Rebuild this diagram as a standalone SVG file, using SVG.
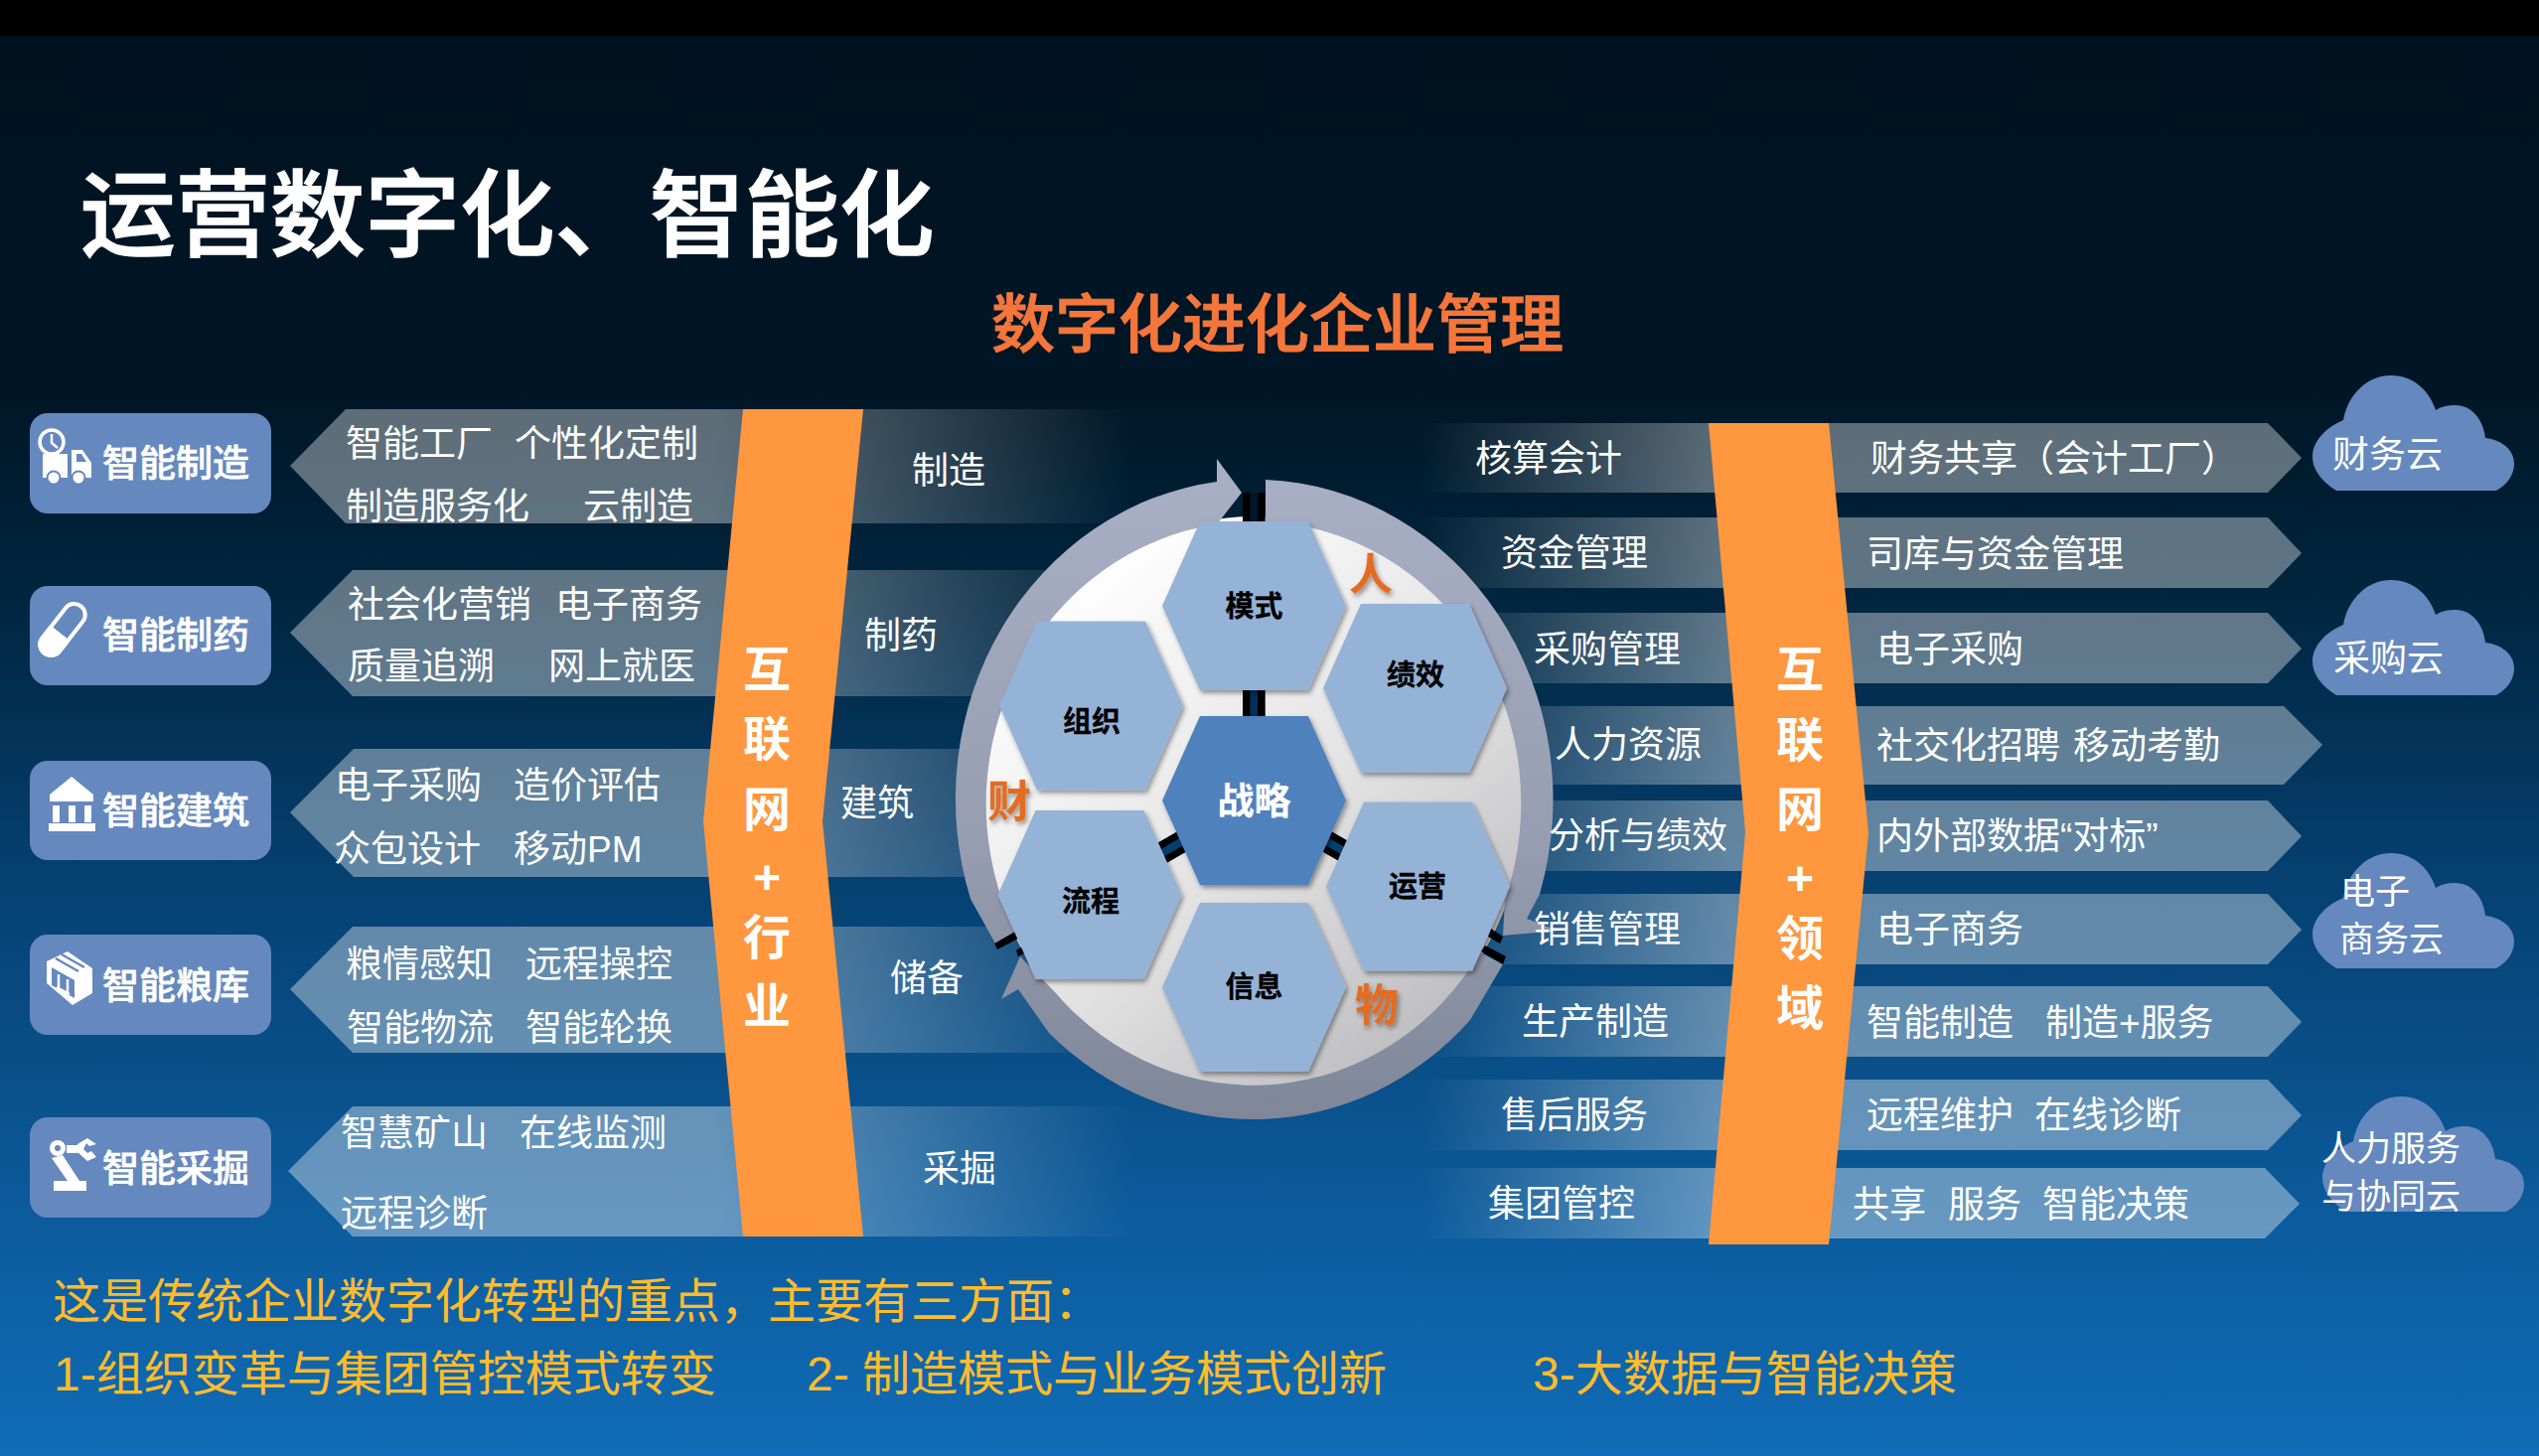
<svg xmlns="http://www.w3.org/2000/svg" width="2556" height="1466" viewBox="0 0 2556 1466">
<style>
text{font-family:"Liberation Sans","Noto Sans CJK SC",sans-serif;fill:#fff}
.t{font-size:37px}
.p{font-size:37px;font-weight:500;stroke:#fff;stroke-width:.6}
.v{font-size:48px;font-weight:700;text-anchor:middle}
.h{font-size:29px;font-weight:700;fill:#000;text-anchor:middle;stroke:#000;stroke-width:.3}
.o{font-size:44px;font-weight:700;fill:#e36c23;text-anchor:middle}
.c{font-size:35px}
.y{font-size:48px;fill:#fdbb2d}
.pill{fill:#6588be}
.lb{fill:url(#fl)}
.rb{fill:url(#fr)}
.or{fill:#fe973e}
.ring{fill:url(#rg)}
.k{fill:#000}
</style>
<defs>
<linearGradient id="bg" gradientUnits="userSpaceOnUse" x1="0" y1="36" x2="0" y2="1466">
<stop offset="0" stop-color="#001220"/><stop offset=".25" stop-color="#001626"/><stop offset=".4" stop-color="#012640"/><stop offset=".59" stop-color="#054070"/><stop offset=".84" stop-color="#0c5c9e"/><stop offset="1" stop-color="#106cb6"/>
</linearGradient>
<linearGradient id="fl" gradientUnits="userSpaceOnUse" x1="720" y1="0" x2="1140" y2="0">
<stop offset="0" stop-color="#fff" stop-opacity=".37"/><stop offset="1" stop-color="#fff" stop-opacity="0"/>
</linearGradient>
<linearGradient id="fr" gradientUnits="userSpaceOnUse" x1="1740" y1="0" x2="1430" y2="0">
<stop offset="0" stop-color="#fff" stop-opacity=".37"/><stop offset="1" stop-color="#fff" stop-opacity="0"/>
</linearGradient>
<linearGradient id="rg" gradientUnits="userSpaceOnUse" x1="0" y1="480" x2="0" y2="1130">
<stop offset="0" stop-color="#a8afc4"/><stop offset=".55" stop-color="#989eb1"/><stop offset="1" stop-color="#7f8698"/>
</linearGradient>
<linearGradient id="dg" x1=".2" y1=".08" x2=".85" y2=".92">
<stop offset="0" stop-color="#fff"/><stop offset=".55" stop-color="#e2e2e2"/><stop offset="1" stop-color="#bcbcc0"/>
</linearGradient>
<filter id="sh" x="-10%" y="-10%" width="125%" height="125%"><feDropShadow dx="2" dy="3" stdDeviation="2.5" flood-color="#000" flood-opacity=".4"/></filter>
<polygon id="hex" points="-92.5,0 -54.5,-85 54.5,-85 92.5,0 54.5,85 -54.5,85"/>
<path id="cloud" d="M24,116 C8,106 0,94 0,82 C0,66 14,52 31,45 C36,18 56,0 79,0 C102,0 118,16 124,35 C130,31 137,30 144,30 C160,30 172,44 174,63 C191,65 203,75 203,89 C203,100 196,110 185,116 Z" fill="#6588be"/>
</defs>

<rect width="2556" height="1466" fill="url(#bg)"/>
<rect width="2556" height="36" fill="#000"/>

<text id="title" x="81" y="251" font-size="95.5" style="font-weight:500;stroke:#fff;stroke-width:1.5">运营数字化、智能化</text>
<text id="subtitle" x="998" y="349" font-size="64" style="fill:#f5763a;font-weight:500;stroke:#f5763a;stroke-width:1">数字化进化企业管理</text>

<g id="left-bars">
<polygon class="lb" points="292,469 348,412 1140,412 1140,527 348,527" id="lbar1"/>
<polygon class="lb" points="292,637 355,574 1140,574 1140,701 355,701" id="lbar2"/>
<polygon class="lb" points="292,818 356,754 1140,754 1140,883 356,883" id="lbar3"/>
<polygon class="lb" points="292,996 355,933 1140,933 1140,1060 355,1060" id="lbar4"/>
<polygon class="lb" points="290,1179 355,1114 1140,1114 1140,1245 355,1245" id="lbar5"/>
</g>
<g id="right-bars">
<polygon class="rb" points="1430,426 2283,426 2317,461 2283,496 1430,496"/>
<polygon class="rb" points="1430,521 2283,521 2317,557 2283,592 1430,592"/>
<polygon class="rb" points="1430,617 2283,617 2317,653 2283,688 1430,688"/>
<polygon class="rb" points="1430,711 2299,711 2338,750 2299,790 1430,790"/>
<polygon class="rb" points="1430,806 2283,806 2317,842 2283,877 1430,877"/>
<polygon class="rb" points="1430,900 2283,900 2317,936 2283,971 1430,971"/>
<polygon class="rb" points="1430,993 2283,993 2317,1029 2283,1064 1430,1064"/>
<polygon class="rb" points="1430,1087 2283,1087 2317,1123 2283,1158 1430,1158"/>
<polygon class="rb" points="1430,1176 2280,1176 2315,1212 2280,1247 1430,1247"/>
</g>

<polygon id="left-spine" class="or" points="748,412 869,412 828,827 869,1245 748,1245 708,827"/>
<polygon id="right-spine" class="or" points="1720,426 1841,426 1881,838 1841,1253 1720,1253 1757,838"/>

<g id="wheel">
<ellipse cx="1262" cy="808" rx="272" ry="288" fill="url(#dg)"/>
<path class="ring" d="M1274,483 A301,322 0 0 1 1550,900 L1537,925 L1568,937 L1513,942 L1515,906 A269,284 0 0 0 1274,525 Z"/>
<path class="ring" d="M1513,971 L1480,1027 A301,322 0 0 1 1056,1040 L1025,996 L1008,1006 L1027,963 L1062,999 A269,284 0 0 0 1490,959 Z"/>
<path class="ring" d="M1002,950 L977,905 A301,322 0 0 1 1225,485 L1225,462 L1250,496 L1225,528 A269,284 0 0 0 1016,925 L1022,938 Z"/>
<g id="stripes">
<rect x="1251" y="496" width="22.5" height="32" fill="#00182c"/><rect class="k" x="1251" y="496" width="7.5" height="32"/><rect class="k" x="1266" y="496" width="7.5" height="32"/>
<rect x="1251" y="692" width="22.5" height="32" fill="#02305a"/><rect class="k" x="1251" y="692" width="7.5" height="32"/><rect class="k" x="1266" y="692" width="7.5" height="32"/>
<g transform="translate(1180,853) rotate(60)"><rect x="-11" y="-20" width="22" height="40" fill="#04406f"/><rect class="k" x="-11" y="-20" width="7" height="40"/><rect class="k" x="4" y="-20" width="7" height="40"/></g>
<g transform="translate(1344,852) rotate(-60)"><rect x="-11" y="-20" width="22" height="40" fill="#04406f"/><rect class="k" x="-11" y="-20" width="7" height="40"/><rect class="k" x="4" y="-20" width="7" height="40"/></g>
<polygon class="k" points="1001,950 1022,938 1025,945 1004,956"/>
<polygon class="k" points="1023,957 1029,953 1033,959 1025,963"/>
<polygon class="k" points="1501,935 1513,943 1510,950 1498,943"/>
<polygon class="k" points="1495,952 1516,963 1513,971 1491,958"/>
</g>
</g>

<g id="hex-moshi"><use href="#hex" x="1262.5" y="610" fill="#95b3d7" filter="url(#sh)"/><text class="h" x="1262.5" y="621">模式</text></g>
<g id="hex-jixiao"><use href="#hex" x="1424.5" y="693" fill="#95b3d7" filter="url(#sh)"/><text class="h" x="1425" y="690">绩效</text></g>
<g id="hex-zuzhi"><use href="#hex" x="1098.5" y="710.5" fill="#95b3d7" filter="url(#sh)"/><text class="h" x="1099" y="737">组织</text></g>
<g id="hex-liucheng"><use href="#hex" x="1097" y="901" fill="#95b3d7" filter="url(#sh)"/><text class="h" x="1098" y="918">流程</text></g>
<g id="hex-xinxi"><use href="#hex" x="1262.5" y="994" fill="#95b3d7" filter="url(#sh)"/><text class="h" x="1262.5" y="1004">信息</text></g>
<g id="hex-yunying"><use href="#hex" x="1427.5" y="892.5" fill="#95b3d7" filter="url(#sh)"/><text class="h" x="1427" y="903">运营</text></g>
<g id="hex-zhanlue"><use href="#hex" x="1262.5" y="806" fill="#4f81bd" filter="url(#sh)"/><text class="h" x="1262.5" y="820" style="fill:#fff;stroke:#fff;font-size:37px">战略</text></g>
<g id="wheel-tags" filter="url(#sh)">
<text class="o" x="1380" y="594">人</text><text class="o" x="1016" y="823">财</text><text class="o" x="1386" y="1028">物</text>
</g>

<g id="pill1"><rect class="pill" x="30" y="416" width="243" height="101" rx="18"/>
<g fill="#fff"><circle cx="52" cy="445" r="12" fill="none" stroke="#fff" stroke-width="3.5"/><path d="M52,437 V446 L58,451" fill="none" stroke="#fff" stroke-width="2.5"/><rect x="43" y="457" width="25" height="24"/><path d="M72,453 H83 L92,466 V481 H72 Z"/><circle cx="54" cy="481" r="6.5" stroke="#6588be" stroke-width="2"/><circle cx="79" cy="481" r="6.5" stroke="#6588be" stroke-width="2"/><path d="M77,457 H82 L87,465 H77 Z" fill="#6588be"/></g>
<text class="p" x="103" y="480">智能制造</text></g>
<g id="pill2"><rect class="pill" x="30" y="590" width="243" height="100" rx="18"/>
<g transform="translate(63,634) rotate(38)"><rect x="-11" y="-30" width="22" height="60" rx="11" fill="none" stroke="#fff" stroke-width="4"/><path d="M-13,4 H13 V19 A13,13 0 0 1 -13,19 Z" fill="#fff"/></g>
<text class="p" x="103" y="653">智能制药</text></g>
<g id="pill3"><rect class="pill" x="30" y="766" width="243" height="100" rx="18"/>
<g fill="#fff"><path d="M72,782 L94,800 V807 H50 V800 Z"/><rect x="53" y="811" width="7" height="17"/><rect x="69" y="811" width="7" height="17"/><rect x="85" y="811" width="7" height="17"/><rect x="49" y="829" width="47" height="8"/></g>
<text class="p" x="103" y="830">智能建筑</text></g>
<g id="pill4"><rect class="pill" x="30" y="941" width="243" height="101" rx="18"/>
<polygon points="68,958 47,968 47,990 73,1012 93,1000 93,975" fill="#fff"/><polygon points="52,974 75,987 75,1005 52,992" fill="#6588be"/><path d="M56,965 L79,978 M62,961 L85,974" stroke="#6588be" stroke-width="2.5" fill="none"/><path d="M59,981 V995 M68,986 V1000 M57,994 L70,1001" stroke="#fff" stroke-width="2.5" fill="none"/>
<text class="p" x="103" y="1006">智能粮库</text></g>
<g id="pill5"><rect class="pill" x="30" y="1125" width="243" height="101" rx="18"/>
<g fill="#fff"><rect x="54" y="1189" width="33" height="10"/><polygon points="52,1166 63,1163 80,1189 68,1189"/><circle cx="58" cy="1156" r="8"/><circle cx="58" cy="1156" r="3" fill="#6588be"/><rect x="67" y="1153" width="12" height="8"/><path d="M78,1152 L88,1146 L97,1152 L90,1154 L87,1151 L84,1157 L88,1161 L92,1159 L97,1165 L88,1169 L78,1160 Z"/></g>
<text class="p" x="103" y="1190">智能采掘</text></g>

<g id="left-texts">
<text class="t" x="348" y="460">智能工厂 <tspan x="518">个性化定制</tspan></text>
<text class="t" x="348" y="523">制造服务化 <tspan x="587">云制造</tspan></text>
<text class="t" x="350" y="622">社会化营销 <tspan x="559">电子商务</tspan></text>
<text class="t" x="350" y="684">质量追溯 <tspan x="552">网上就医</tspan></text>
<text class="t" x="337" y="804">电子采购 <tspan x="517">造价评估</tspan></text>
<text class="t" x="336" y="868">众包设计 <tspan x="517">移动PM</tspan></text>
<text class="t" x="348" y="984">粮情感知 <tspan x="529">远程操控</tspan></text>
<text class="t" x="349" y="1048">智能物流 <tspan x="529">智能轮换</tspan></text>
<text class="t" x="343" y="1154">智慧矿山 <tspan x="523">在线监测</tspan></text>
<text class="t" x="343" y="1235">远程诊断</text>
<text class="t" x="918" y="487">制造</text>
<text class="t" x="870" y="653">制药</text>
<text class="t" x="846" y="822">建筑</text>
<text class="t" x="896" y="998">储备</text>
<text class="t" x="929" y="1190">采掘</text>
</g>
<g id="right-texts">
<text class="t" x="1485" y="475">核算会计</text>
<text class="t" x="1511" y="570">资金管理</text>
<text class="t" x="1544" y="667">采购管理</text>
<text class="t" x="1565" y="763">人力资源</text>
<text class="t" x="1559" y="854" style="font-size:36px">分析与绩效</text>
<text class="t" x="1544" y="949">销售管理</text>
<text class="t" x="1532" y="1042">生产制造</text>
<text class="t" x="1511" y="1136">售后服务</text>
<text class="t" x="1498" y="1225">集团管控</text>
<text class="t" x="1883" y="475">财务共享&#xFF08;会计工厂&#xFF09;</text>
<text class="t" x="1879" y="571">司库与资金管理</text>
<text class="t" x="1889" y="667">电子采购</text>
<text class="t" x="1889" y="764">社交化招聘 <tspan x="2087">移动考勤</tspan></text>
<text class="t" x="1889" y="855">内外部数据“对标”</text>
<text class="t" x="1889" y="949">电子商务</text>
<text class="t" x="1879" y="1043">智能制造 <tspan x="2059">制造+服务</tspan></text>
<text class="t" x="1879" y="1136">远程维护 <tspan x="2048">在线诊断</tspan></text>
<text class="t" x="1865" y="1226">共享 <tspan x="1961">服务</tspan> <tspan x="2056">智能决策</tspan></text>
</g>

<g id="left-spine-label"><text class="v" x="772" y="691">互</text><text class="v" x="772" y="761">联</text><text class="v" x="772" y="832">网</text><text class="v" x="772" y="900">+</text><text class="v" x="772" y="961">行</text><text class="v" x="772" y="1030">业</text></g>
<g id="right-spine-label"><text class="v" x="1812" y="691">互</text><text class="v" x="1812" y="762">联</text><text class="v" x="1812" y="832">网</text><text class="v" x="1812" y="901">+</text><text class="v" x="1812" y="962">领</text><text class="v" x="1812" y="1032">域</text></g>

<g id="cloud1"><use href="#cloud" x="2328" y="378"/><text class="t" x="2348" y="471">财务云</text></g>
<g id="cloud2"><use href="#cloud" x="2328" y="584"/><text class="t" x="2349" y="676">采购云</text></g>
<g id="cloud3"><use href="#cloud" x="2328" y="859"/><text class="c" x="2356" y="910">电子</text><text class="c" x="2355" y="958">商务云</text></g>
<g id="cloud4"><use href="#cloud" x="2338" y="1104"/><text class="c" x="2337" y="1169">人力服务</text><text class="c" x="2337" y="1217">与协同云</text></g>

<g id="footer">
<text class="y" x="53" y="1327">这是传统企业数字化转型的重点&#xFF0C;主要有三方面&#xFF1A;</text>
<text class="y" x="54" y="1400">1-组织变革与集团管控模式转变</text>
<text class="y" x="812" y="1400">2- 制造模式与业务模式创新</text>
<text class="y" x="1543" y="1400">3-大数据与智能决策</text>
</g>
</svg>
